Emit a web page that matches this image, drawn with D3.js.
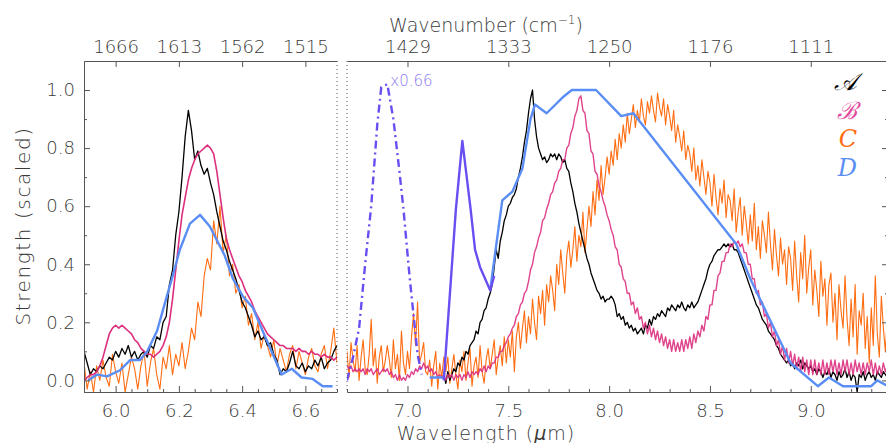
<!DOCTYPE html>
<html>
<head>
<meta charset="utf-8">
<title>Band strengths</title>
<script src="https://cdnjs.cloudflare.com/ajax/libs/d3/7.8.5/d3.min.js"></script>
<style>
  body { margin: 0; background: #fff; }
  svg text { font-family: "DejaVu Sans", sans-serif; font-weight: 200; fill: #3a3a3a; }
  .axis path, .axis line, .frame { stroke: #555; stroke-width: 1; fill: none; }
  .axis text { font-size: 18px; }
  .title { font-size: 19px; }
  .legend { font-family: "DejaVu Serif", serif; font-style: italic; font-size: 24px; }
  .series { fill: none; stroke-linejoin: round; }
</style>
</head>
<body>
<svg id="canvas" width="886" height="443"></svg>
<script>
// grids: left panel values start at 5.90, right panel at 6.70, A(right) at 7.18; step 0.01 um
const gridStep = 0.01;
const leftStart = 5.90, rightStart = 6.70, aRightStart = 7.18;

const aLeft = [0.10,0.06,0.02,0.04,0.03,0.05,0.04,0.06,0.08,0.07,
  0.10,0.08,0.11,0.09,0.12,0.08,0.10,0.07,0.09,0.10,
  0.08,0.12,0.11,0.15,0.14,0.20,0.22,0.33,0.38,0.50,
  0.58,0.70,0.84,0.93,0.86,0.76,0.79,0.74,0.71,0.73,
  0.68,0.64,0.58,0.53,0.48,0.45,0.41,0.38,0.35,0.31,
  0.27,0.25,0.22,0.19,0.15,0.17,0.14,0.15,0.12,0.13,
  0.09,0.07,0.02,0.04,0.03,0.06,0.10,0.05,0.04,0.06,
  0.03,0.05,0.04,0.07,0.05,0.08,0.04,0.06,0.07,0.10,
  0.12];
const bLeft = [0.00,0.01,0.02,0.02,0.03,0.05,0.08,0.12,0.16,0.18,
  0.19,0.18,0.19,0.18,0.17,0.16,0.14,0.13,0.11,0.10,
  0.09,0.09,0.08,0.09,0.10,0.12,0.15,0.20,0.28,0.38,
  0.48,0.57,0.63,0.69,0.73,0.76,0.78,0.79,0.80,0.81,
  0.80,0.78,0.72,0.64,0.56,0.49,0.45,0.42,0.39,0.36,
  0.34,0.31,0.29,0.27,0.24,0.22,0.20,0.18,0.16,0.15,
  0.14,0.13,0.12,0.12,0.11,0.11,0.11,0.10,0.11,0.10,
  0.10,0.09,0.10,0.09,0.09,0.08,0.09,0.08,0.08,0.07,
  0.08];
const cLeft = [0.06,-0.03,0.03,-0.04,0.05,0.00,0.07,0.01,-0.02,0.09,
  0.03,-0.01,0.06,-0.04,0.02,0.08,0.04,-0.03,0.05,0.10,
  -0.02,0.06,0.11,0.02,-0.03,0.08,0.04,0.12,0.02,0.09,
  0.05,0.13,0.04,0.10,0.18,0.14,0.27,0.22,0.36,0.42,
  0.38,0.55,0.47,0.60,0.44,0.50,0.36,0.40,0.30,0.33,
  0.25,0.29,0.19,0.23,0.14,0.20,0.11,0.16,0.12,0.08,
  0.14,0.05,0.11,0.07,0.03,0.09,0.12,0.04,0.10,0.06,
  0.02,0.08,0.11,0.05,0.03,0.09,0.12,0.04,0.10,0.18,
  0.06];

const aRight = [0.02,-0.01,
  0.03,0.00,0.02,0.04,0.03,0.06,0.05,0.08,0.07,0.10,
  0.09,0.12,0.13,0.14,0.17,0.16,0.20,0.21,0.24,0.25,
  0.28,0.30,0.33,0.39,0.45,0.42,0.48,0.51,0.55,0.57,
  0.60,0.61,0.63,0.64,0.66,0.70,0.73,0.77,0.82,0.86,
  0.92,0.97,1.00,0.90,0.84,0.80,0.78,0.76,0.77,0.75,
  0.76,0.78,0.77,0.78,0.76,0.78,0.77,0.75,0.76,0.73,
  0.72,0.68,0.65,0.61,0.58,0.54,0.51,0.48,0.45,0.42,
  0.40,0.37,0.35,0.33,0.31,0.30,0.28,0.29,0.27,0.28,
  0.28,0.29,0.28,0.26,0.22,0.23,0.21,0.22,0.19,0.20,
  0.18,0.19,0.17,0.18,0.16,0.17,0.18,0.16,0.19,0.18,
  0.21,0.19,0.22,0.21,0.23,0.22,0.24,0.23,0.22,0.25,
  0.24,0.26,0.25,0.24,0.26,0.25,0.27,0.25,0.24,0.26,
  0.25,0.27,0.25,0.26,0.27,0.29,0.31,0.33,0.35,0.38,
  0.40,0.41,0.43,0.44,0.45,0.45,0.46,0.47,0.46,0.47,
  0.46,0.47,0.45,0.45,0.44,0.42,0.40,0.38,0.36,0.34,
  0.32,0.30,0.28,0.26,0.25,0.23,0.21,0.20,0.19,0.17,
  0.16,0.15,0.14,0.12,0.11,0.09,0.08,0.07,0.06,0.07,
  0.05,0.06,0.04,0.06,0.05,0.07,0.04,0.06,0.05,0.04,
  0.05,0.03,0.04,0.02,0.04,0.03,0.01,0.03,0.02,0.04,
  0.01,0.03,0.02,0.00,0.03,0.01,0.02,0.04,0.01,0.03,
  0.00,0.02,0.01,-0.04,0.02,0.01,0.03,0.00,0.02,0.03,
  0.01,0.02,0.00,0.03,0.02,0.01,0.03,0.02,0.01];

const bRight = [0.05,0.04,0.05,0.03,0.04,0.03,0.04,0.03,0.04,0.02,
  0.04,0.03,0.04,0.02,0.03,0.04,0.02,0.03,0.04,0.03,
  0.04,0.02,0.03,0.01,0.02,0.00,0.02,0.00,0.01,0.00,
  0.02,0.01,0.03,0.02,0.04,0.03,0.05,0.04,0.06,0.04,
  0.05,0.03,0.04,0.02,0.03,0.01,0.02,0.01,0.02,0.00,
  0.02,0.01,0.02,0.00,0.02,0.01,0.02,0.00,0.02,0.01,
  0.03,0.01,0.03,0.02,0.03,0.02,0.04,0.03,0.05,0.03,
  0.05,0.04,0.06,0.06,0.08,0.08,0.10,0.10,0.12,0.13,
  0.15,0.16,0.18,0.19,0.22,0.23,0.26,0.27,0.30,0.31,
  0.34,0.38,0.40,0.44,0.46,0.49,0.51,0.55,0.56,0.59,
  0.61,0.64,0.65,0.68,0.69,0.72,0.73,0.76,0.76,0.80,
  0.81,0.85,0.87,0.91,0.93,0.97,0.98,0.93,0.92,0.86,
  0.85,0.79,0.78,0.72,0.71,0.67,0.65,0.62,0.60,0.57,
  0.55,0.52,0.50,0.46,0.45,0.40,0.39,0.35,0.34,0.30,
  0.30,0.26,0.27,0.23,0.25,0.21,0.22,0.18,0.20,0.16,
  0.19,0.15,0.18,0.14,0.17,0.13,0.16,0.12,0.15,0.11,
  0.14,0.10,0.14,0.10,0.13,0.10,0.14,0.10,0.14,0.11,
  0.15,0.11,0.16,0.13,0.17,0.15,0.19,0.17,0.22,0.21,
  0.26,0.26,0.31,0.31,0.36,0.37,0.41,0.41,0.44,0.44,
  0.47,0.46,0.48,0.47,0.48,0.46,0.47,0.44,0.44,0.40,
  0.40,0.35,0.35,0.30,0.31,0.26,0.27,0.22,0.23,0.18,
  0.20,0.15,0.17,0.12,0.14,0.09,0.12,0.07,0.11,0.06,
  0.10,0.05,0.09,0.04,0.08,0.03,0.08,0.03,0.07,0.02,
  0.07,0.02,0.07,0.02,0.06,0.02,0.07,0.02,0.06,0.02,
  0.07,0.03,0.07,0.02,0.06,0.02,0.07,0.03,0.07,0.02,
  0.06,0.02,0.07,0.03,0.06,0.02,0.06,0.02,0.06,0.03,
  0.07,0.02,0.06,0.02,0.05,0.02,0.06,0.03,0.05];

const cRight = [0.10,0.01,0.13,0.07,0.03,0.12,0.00,0.08,0.14,0.04,
  0.02,0.09,0.21,0.05,0.11,-0.01,0.08,0.12,0.03,0.07,
  0.12,0.07,0.01,0.14,0.04,0.09,0.00,0.17,0.06,0.02,
  0.10,0.04,0.15,0.23,0.12,0.27,0.06,0.09,0.13,0.03,
  0.02,0.07,-0.02,0.05,0.10,-0.03,0.06,0.01,0.08,0.03,
  0.08,-0.01,0.04,0.09,0.02,-0.03,0.07,0.03,0.10,0.00,
  0.06,0.11,-0.02,0.05,0.08,0.01,0.12,0.03,-0.01,0.07,
  0.11,0.04,0.09,0.14,0.02,0.08,0.12,0.05,0.15,0.06,
  0.14,0.08,0.17,0.03,0.15,0.20,0.11,0.18,0.24,0.13,
  0.22,0.16,0.28,0.20,0.14,0.29,0.23,0.31,0.19,0.33,
  0.27,0.36,0.31,0.24,0.40,0.33,0.45,0.37,0.30,0.43,
  0.48,0.39,0.45,0.53,0.41,0.50,0.46,0.58,0.44,0.52,
  0.60,0.53,0.65,0.57,0.69,0.62,0.74,0.64,0.70,0.77,
  0.71,0.79,0.74,0.83,0.76,0.85,0.80,0.88,0.82,0.92,
  0.85,0.90,0.95,0.87,0.93,0.89,0.97,0.91,0.88,0.96,
  0.92,0.98,0.93,0.89,0.99,0.94,0.91,0.97,0.88,0.95,
  0.91,0.86,0.93,0.82,0.88,0.84,0.79,0.86,0.76,0.81,
  0.78,0.72,0.80,0.69,0.74,0.67,0.76,0.70,0.64,0.72,
  0.68,0.60,0.71,0.63,0.57,0.66,0.61,0.69,0.56,0.64,
  0.62,0.55,0.66,0.51,0.58,0.63,0.50,0.60,0.54,0.47,
  0.57,0.48,0.61,0.45,0.53,0.42,0.55,0.50,0.44,0.58,
  0.47,0.38,0.52,0.43,0.36,0.49,0.40,0.45,0.33,0.46,
  0.42,0.31,0.48,0.36,0.27,0.44,0.35,0.50,0.30,0.39,
  0.45,0.26,0.38,0.31,0.22,0.41,0.29,0.35,0.19,0.33,
  0.37,0.20,0.30,0.14,0.33,0.24,0.18,0.36,0.21,0.12,
  0.28,0.15,0.33,0.09,0.24,0.19,0.30,0.11,0.22,0.06,
  0.25,0.12,0.36,0.16,0.08,0.29,0.18,0.10,0.22];

// D (lower resolution) and the extra violet band, as [wavelength, strength]
const dLeft = [[5.913,0.00],[5.942,0.02],[5.973,0.014],[6.014,0.035],[6.046,0.07],[6.077,0.07],
  [6.10,0.10],[6.131,0.17],[6.162,0.29],[6.178,0.35],[6.203,0.45],[6.235,0.54],[6.267,0.57],
  [6.298,0.53],[6.345,0.43],[6.371,0.35],[6.402,0.29],[6.434,0.25],[6.465,0.17],[6.497,0.09],
  [6.525,0.02],[6.557,0.04],[6.588,0.01],[6.623,0.005],[6.655,-0.02],[6.686,-0.02]];
const dRight = [[7.11,0.01],[7.18,0.01],null,
  [7.41,0.31],[7.47,0.62],[7.52,0.65],[7.57,0.73],[7.61,0.90],[7.632,0.95],[7.69,0.92],
  [7.77,0.975],[7.815,1.00],[7.935,1.00],[8.06,0.91],[8.12,0.92],[8.63,0.47],[8.70,0.35],
  [8.90,0.06],[9.035,-0.02],[9.09,0.01],[9.16,-0.02],[9.30,-0.02],[9.33,0.00],[9.383,-0.02]];
const violetBand = [[7.18,0.00],[7.24,0.59],[7.272,0.825],[7.313,0.59],[7.335,0.45],
  [7.36,0.39],[7.385,0.35],[7.41,0.31],[7.43,0.36]];
const violetScaled = [[6.70,0.00],[6.73,0.08],[6.76,0.18],[6.79,0.40],[6.82,0.60],[6.85,0.88],
  [6.87,1.01],[6.90,1.02],[6.93,0.90],[6.96,0.72],[6.98,0.59],[7.01,0.36],[7.05,0.09],[7.07,0.02]];
const violetScaleLabel = "x0.66";

const yMajor = [0, 0.2, 0.4, 0.6, 0.8, 1.0];
const yMinor = [0.1, 0.3, 0.5, 0.7, 0.9];
const xMajorLeft = [6.0, 6.2, 6.4, 6.6];
const xMajorRight = [7.0, 7.5, 8.0, 8.5, 9.0];
const wnLeft = ["1666", "1613", "1562", "1515"];
const wnRight = ["1429", "1333", "1250", "1176", "1111"];
const legendLabels = ["\u{1D49C}", "\u212C", "C", "D"];

const colors = { A: "#000000", B: "#dc2f7e", C: "#ff6d12", D: "#5b8ef4", V: "#6a4ef2", VL: "#8b7cf2" };
const legendColors = [colors.A, "#e2489a", colors.C, colors.D];

const plotTop = 61, plotBottom = 392;
const y = d3.scaleLinear().domain([-0.04, 1.1]).range([plotBottom, plotTop]);
const xL = d3.scaleLinear().domain([5.90, 6.70]).range([84, 337]);
const xR = d3.scaleLinear().domain([6.70, 9.383]).range([347, 888]);

const onGrid = (start, vals) => vals.map((v, i) => [start + i * gridStep, v]);

const svg = d3.select("#canvas");

function makePanel(x, id) {
  svg.append("clipPath").attr("id", id).append("rect")
    .attr("x", x.range()[0]).attr("y", plotTop)
    .attr("width", x.range()[1] - x.range()[0]).attr("height", plotBottom - plotTop);
  return svg.append("g").attr("clip-path", "url(#" + id + ")");
}

function drawSeries(g, x, data, color, width, dash) {
  const line = d3.line().defined(d => d != null).x(d => x(d[0])).y(d => y(d[1]));
  const p = g.append("path").datum(data).attr("class", "series")
    .attr("d", line).attr("stroke", color).attr("stroke-width", width);
  if (dash) p.attr("stroke-dasharray", dash);
  return p;
}

const gL = makePanel(xL, "clipL");
drawSeries(gL, xL, onGrid(leftStart, cLeft), colors.C, 1.1);
drawSeries(gL, xL, onGrid(leftStart, aLeft), colors.A, 1.3);
drawSeries(gL, xL, onGrid(leftStart, bLeft), colors.B, 1.6);
drawSeries(gL, xL, dLeft, colors.D, 2.4);

const gR = makePanel(xR, "clipR");
drawSeries(gR, xR, onGrid(rightStart, cRight), colors.C, 1.1);
drawSeries(gR, xR, onGrid(aRightStart, aRight), colors.A, 1.3);
drawSeries(gR, xR, onGrid(rightStart, bRight), colors.B, 1.4).attr("stroke-opacity", 0.9);
drawSeries(gR, xR, dRight, colors.D, 2.4);
drawSeries(gR, xR, violetBand, colors.V, 2.4);
drawSeries(gR, xR, violetScaled, colors.V, 2.4, "8,4,2,4");

svg.append("text").attr("x", xR(6.915)).attr("y", y(1.015))
  .style("font-size", "15px").style("fill", colors.VL).text(violetScaleLabel);

// axes
function styleAxis(g) { g.attr("font-family", null).attr("font-size", null); return g; }

function xAxes(x, majors, wn, minorStep) {
  const minors = d3.range(x.domain()[0], x.domain()[1] + 1e-9, minorStep)
    .filter(v => !majors.some(m => Math.abs(m - v) < 1e-6));
  styleAxis(svg.append("g").attr("class", "axis").attr("transform", "translate(0," + plotBottom + ")")
    .call(d3.axisBottom(x).tickValues(majors).tickFormat(d3.format(".1f"))
      .tickSize(-6).tickSizeOuter(0).tickPadding(12)));
  svg.append("g").attr("class", "axis").attr("transform", "translate(0," + plotBottom + ")")
    .call(d3.axisBottom(x).tickValues(minors).tickFormat("").tickSize(-3).tickSizeOuter(0));
  styleAxis(svg.append("g").attr("class", "axis").attr("transform", "translate(0," + plotTop + ")")
    .call(d3.axisTop(x).tickValues(majors).tickFormat((d, i) => wn[i])
      .tickSize(-6).tickSizeOuter(0).tickPadding(8)));
}
xAxes(xL, xMajorLeft, wnLeft, 0.05);
xAxes(xR, xMajorRight, wnRight, 0.1);

styleAxis(svg.append("g").attr("class", "axis").attr("transform", "translate(84,0)")
  .call(d3.axisLeft(y).tickValues(yMajor).tickFormat(d3.format(".1f"))
    .tickSize(-6).tickSizeOuter(0).tickPadding(9)));
svg.append("g").attr("class", "axis").attr("transform", "translate(84,0)")
  .call(d3.axisLeft(y).tickValues(yMinor).tickFormat("").tickSize(-3).tickSizeOuter(0));
svg.append("g").attr("class", "axis").attr("transform", "translate(888,0)")
  .call(d3.axisRight(y).tickValues(yMajor).tickFormat("").tickSize(-6).tickSizeOuter(0));
svg.append("g").attr("class", "axis").attr("transform", "translate(888,0)")
  .call(d3.axisRight(y).tickValues(yMinor).tickFormat("").tickSize(-3).tickSizeOuter(0));

// dotted inner edges of the two panels
[xL.range()[1], xR.range()[0]].forEach(xx => {
  svg.append("line").attr("class", "frame").attr("x1", xx).attr("x2", xx)
    .attr("y1", plotTop).attr("y2", plotBottom).attr("stroke-dasharray", "1,3");
});

// titles
const topTitle = svg.append("text").attr("class", "title").attr("x", 486).attr("y", 32)
  .attr("text-anchor", "middle");
topTitle.append("tspan").text("Wavenumber (cm");
topTitle.append("tspan").attr("dy", -8).style("font-size", "12px").text("\u22121");
topTitle.append("tspan").attr("dy", 8).text(")");

const botTitle = svg.append("text").attr("class", "title").attr("x", 486).attr("y", 440)
  .attr("text-anchor", "middle").style("letter-spacing", "1px");
botTitle.append("tspan").text("Wavelength (");
botTitle.append("tspan").style("font-style", "italic").text("\u03bc");
botTitle.append("tspan").text("m)");

svg.append("text").attr("class", "title").attr("text-anchor", "middle")
  .style("font-size", "20px").style("letter-spacing", "1.6px")
  .attr("transform", "translate(30,226) rotate(-90)").text("Strength (scaled)");

// legend
svg.selectAll(".legend").data(legendLabels).enter().append("text")
  .attr("class", "legend").attr("text-anchor", "end")
  .attr("x", 857).attr("y", (d, i) => 90 + i * 28.7)
  .style("fill", (d, i) => legendColors[i]).text(d => d);
</script>
</body>
</html>
